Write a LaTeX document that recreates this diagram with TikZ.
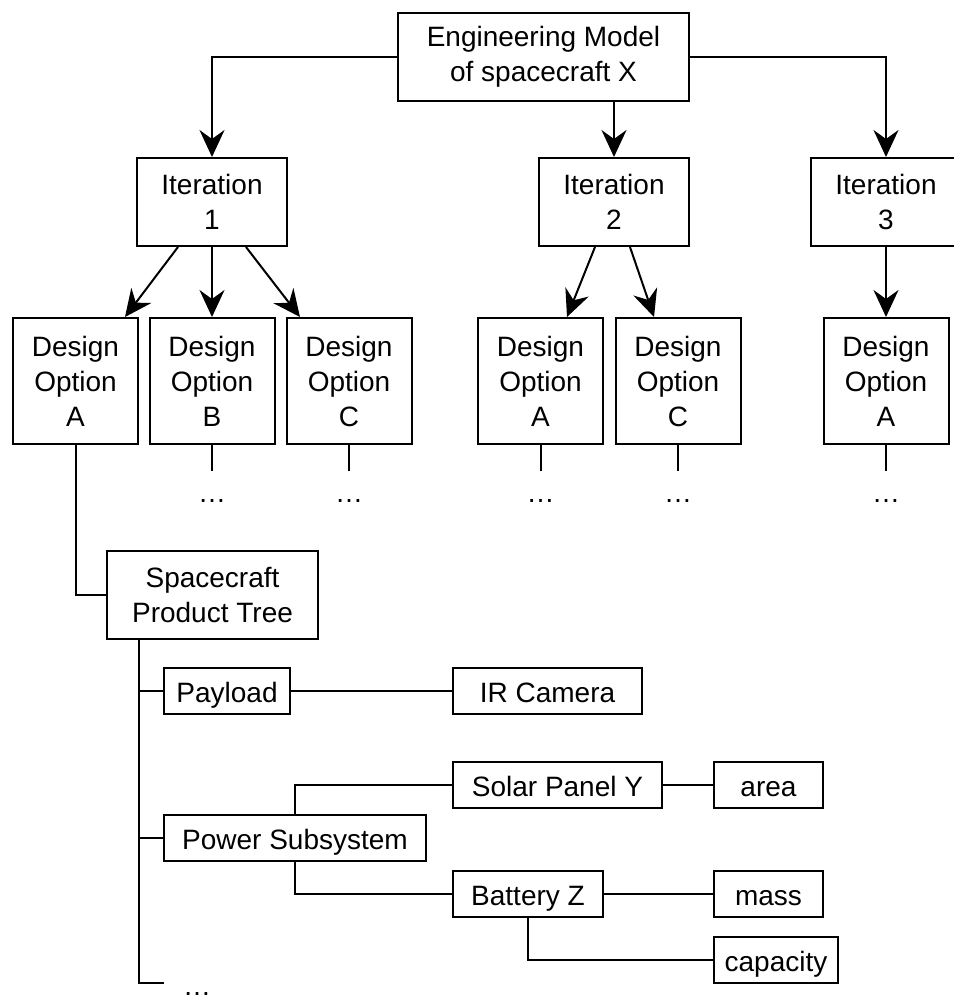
\documentclass[tikz,border=0pt]{standalone}
\usepackage{fontspec}
\setmainfont{Liberation Sans}
\usepackage{tikz}
\usetikzlibrary{arrows.meta,positioning,calc}

\begin{document}
\begin{tikzpicture}[x=0.5pt, y=-0.5pt, line width=1pt,
  font=\fontsize{14pt}{17.5pt}\selectfont,
  box/.style={draw, align=center, inner sep=0pt, minimum width=#1, minimum height=23pt},
  box/.default=63pt,
  slim/.style={box=#1, text height=13pt, text depth=1.5pt},
  slim/.default=63pt,
  tall/.style={box=#1, minimum height=44pt},
  opt/.style={box=62.5pt, minimum height=63pt},
  dots/.style={inner sep=0pt, text height=15pt},
  arr/.style={-{Stealth[length=13.5pt, width=12.5pt, inset=4.5pt]}}]
\useasboundingbox (0,0) rectangle (954,997);
% model and iterations
\node[tall=145.5pt] (model) at (543.5,56.5) {Engineering Model\\of spacecraft X};
\node[tall=75pt] (it1) at (212,202) {Iteration\\1};
\node[tall=75pt] (it2) at (614,202) {Iteration\\2};
\node[tall=75pt] (it3) at (886,202) {Iteration\\3};
\draw[arr] (model.west) -| (it1.north);
\draw[arr] (it2.north |- model.south) -- (it2.north);
\draw[arr] (model.east) -| (it3.north);
% design options
\node[opt] (optA1) at (75.5,381) {Design\\Option\\A};
\node[opt] (optB1) at (212,381) {Design\\Option\\B};
\node[opt] (optC1) at (349,381) {Design\\Option\\C};
\node[opt] (optA2) at (540.5,381) {Design\\Option\\A};
\node[opt] (optC2) at (678,381) {Design\\Option\\C};
\node[opt] (optA3) at (886,381) {Design\\Option\\A};
\draw[arr] ([xshift=-17pt]it1.south) -- ([xshift=24.75pt]optA1.north);
\draw[arr] (it1.south) -- (optB1.north);
\draw[arr] ([xshift=17pt]it1.south) -- ([xshift=-24.5pt]optC1.north);
\draw[arr] ([xshift=-9.5pt]it2.south) -- ([xshift=13.25pt]optA2.north);
\draw[arr] ([xshift=8pt]it2.south) -- ([xshift=-12pt]optC2.north);
\draw[arr] (it3.south) -- (optA3.north);
\foreach \o in {optB1,optC1,optA2,optC2,optA3} {
  \node[dots, below=13pt of \o] (d\o) {\dots};
  \draw (\o) -- (d\o);
}
% product tree
\node[tall=105.5pt] (tree) at (212.5,595) {Spacecraft\\Product Tree};
\draw (optA1.south) |- (tree.west);
\node[slim] (payload) at (227,691) {Payload};
\node[slim=94.5pt] (ircam) at (547.5,691) {IR Camera};
\node[slim=131pt] (power) at (295,838) {Power Subsystem};
\node[slim=104.5pt] (solar) at (557.5,785) {Solar Panel Y};
\node[slim=54.5pt] (area) at (768.5,785) {area};
\node[slim=75pt] (battery) at (528,893.5) {Battery Z};
\node[slim=54.5pt] (mass) at (768.5,893.5) {mass};
\node[slim=62pt] (capacity) at (776,960) {capacity};
\coordinate (trunk) at ([xshift=16.5pt]tree.south west);
\coordinate (trunkend) at (164,983);
\node[dots, anchor=base] (dtree) at (197,995) {\dots};
\draw (trunk) |- (payload.west);
\draw (trunk) |- (power.west);
\draw (trunk) |- (trunkend);
\draw (payload) -- (ircam);
\draw (power.north) |- (solar.west);
\draw (power.south) |- (battery.west);
\draw (solar) -- (area);
\draw (battery) -- (mass);
\draw (battery.south) |- (capacity.west);
\end{tikzpicture}
\end{document}
